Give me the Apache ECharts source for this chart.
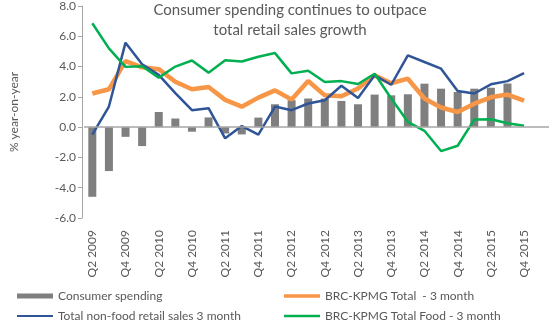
<!DOCTYPE html>
<html>
<head>
<meta charset="utf-8">
<script src="https://cdn.jsdelivr.net/npm/echarts@6/dist/echarts.min.js"></script>
<style>html,body{margin:0;padding:0;background:#fff}#c{width:550px;height:321px}</style>
</head>
<body>
<div id="c"></div>
<script>
var categories = ["Q2 2009","Q3 2009","Q4 2009","Q1 2010","Q2 2010","Q3 2010","Q4 2010","Q1 2011","Q2 2011","Q3 2011","Q4 2011","Q1 2012","Q2 2012","Q3 2012","Q4 2012","Q1 2013","Q2 2013","Q3 2013","Q4 2013","Q1 2014","Q2 2014","Q3 2014","Q4 2014","Q1 2015","Q2 2015","Q3 2015","Q4 2015",""];
var consumerSpending = [-4.6,-2.9,-0.64,-1.25,1.0,0.57,-0.3,0.64,-0.42,-0.48,0.63,1.51,1.78,1.89,1.89,1.73,1.51,2.15,2.1,2.17,2.87,2.54,2.32,2.54,2.6,2.88,null];
var brcTotal = [2.22,2.5,4.36,3.95,3.83,3.0,2.5,2.65,1.8,1.35,1.95,2.43,1.82,3.05,2.1,2.04,2.55,3.42,2.9,3.2,1.89,1.3,1.0,1.55,1.97,2.15,1.75];
var nonFood = [-0.5,1.36,5.58,4.15,3.45,2.25,1.12,1.25,-0.74,0.07,-0.5,1.36,1.12,1.56,1.78,2.73,1.92,3.42,2.8,4.74,4.3,3.86,2.39,2.22,2.83,3.04,3.57];
var brcFood = [6.86,5.2,3.98,4.02,3.27,4.0,4.4,3.6,4.42,4.33,4.65,4.89,3.55,3.72,2.98,3.04,2.85,3.53,1.89,0.35,-0.24,-1.58,-1.23,0.5,0.52,0.26,0.09];
var yTicks = {min: -6, max: 8, interval: 2};
var titleText = "Consumer spending continues to outpace\ntotal retail sales growth";
var names = ["Consumer spending", "BRC-KPMG Total  - 3 month", "Total non-food retail sales 3 month", "BRC-KPMG Total Food - 3 month"];

var txt = '#595959';
var font = 'Lato';
function leg(name, icon, left, top) {
  return {
    orient: 'horizontal', left: left, top: top, padding: 0,
    itemWidth: 36, itemHeight: 6,
    textStyle: {fontFamily: font, fontSize: 12, color: txt, lineHeight: 14},
    data: [{name: name, icon: icon}]
  };
}
var chart = echarts.init(document.getElementById('c'), null, {renderer: 'canvas'});
chart.setOption({
  animation: false,
  textStyle: {fontFamily: font},
  title: {
    text: titleText, left: 290, top: 0, padding: 0, textAlign: 'center',
    textStyle: {fontFamily: font, fontSize: 15, fontWeight: 'normal', color: txt, lineHeight: 20}
  },
  grid: {left: 78, right: 1, top: 6, bottom: 103, containLabel: false},
  legend: [
    leg(names[0], 'path://M0,0L36,0L36,5L0,5Z', 17, 289),
    leg(names[2], 'path://M0,0L36,0L36,2L0,2Z', 17, 309),
    leg(names[1], 'path://M0,0L36,0L36,3.5L0,3.5Z', 284, 289),
    leg(names[3], 'path://M0,0L36,0L36,2.5L0,2.5Z', 284, 309)
  ],
  xAxis: {
    type: 'category', data: categories, boundaryGap: true,
    axisLine: {show: false, onZero: false}, axisTick: {show: false},
    axisLabel: {interval: 1, rotate: 90, margin: 12, fontFamily: font, fontSize: 12, color: txt}
  },
  yAxis: {
    type: 'value', min: yTicks.min, max: yTicks.max, interval: yTicks.interval, offset: 2,
    name: '% year-on-year', nameLocation: 'middle', nameGap: 62, nameRotate: 90,
    nameTextStyle: {fontFamily: font, fontSize: 12, color: txt},
    axisLine: {show: true, lineStyle: {color: '#A6A6A6', width: 1}},
    axisTick: {show: true, inside: false, length: 4, lineStyle: {color: '#A6A6A6'}},
    splitLine: {show: false},
    axisLabel: {fontFamily: font, fontSize: 12, color: txt, margin: 6, formatter: function(v){return v.toFixed(1);}}
  },
  series: [{
    name: names[0], type: 'bar', data: consumerSpending, barWidth: 8,
    itemStyle: {color: '#7F7F7F'},
    markLine: {silent: true, symbol: 'none', label: {show: false},
      lineStyle: {color: '#A6A6A6', width: 1.5, type: 'solid'}, data: [{yAxis: 0}]}
  }, {
    name: names[1], type: 'line', data: brcTotal, symbol: 'none',
    lineStyle: {color: '#F79646', width: 4.5}, itemStyle: {color: '#F79646'}
  }, {
    name: names[2], type: 'line', data: nonFood, symbol: 'none',
    lineStyle: {color: '#2F5597', width: 2.5}, itemStyle: {color: '#2F5597'}
  }, {
    name: names[3], type: 'line', data: brcFood, symbol: 'none',
    lineStyle: {color: '#00B050', width: 2.5}, itemStyle: {color: '#00B050'}
  }]
});
</script>
</body>
</html>
